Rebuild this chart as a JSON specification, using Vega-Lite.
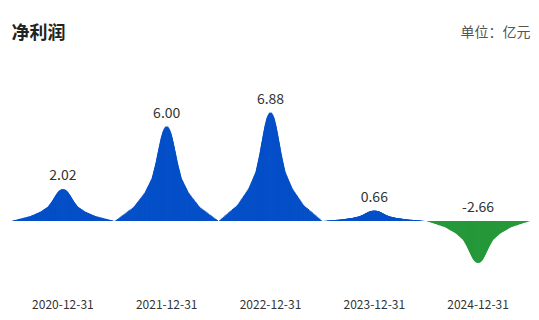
{"$schema":"https://vega.github.io/schema/vega-lite/v6.json","autosize":{"type":"none"},"width":519,"height":189,"padding":{"left":11,"top":95,"right":9,"bottom":36},"background":"#ffffff","config":{"font":"Noto Sans CJK SC","view":{"stroke":null},"locale":{"number":{"decimal":".","thousands":",","grouping":[3],"currency":["",""],"minus":"-"}}},"data":{"values":[{"date":"2020-12-31","value":2.02},{"date":"2021-12-31","value":6.00},{"date":"2022-12-31","value":6.88},{"date":"2023-12-31","value":0.66},{"date":"2024-12-31","value":-2.66}]},"encoding":{"x":{"field":"date","type":"nominal","scale":{"paddingInner":0,"paddingOuter":0},"axis":{"title":null,"labelAngle":0,"domain":false,"ticks":false,"tickSize":0,"grid":false,"labelFontSize":12,"labelColor":"#333333","labelPadding":20,"labelBaseline":"middle"}},"color":{"condition":{"test":"datum.value < 0","value":"#26993b"},"value":"#0550c8"}},"resolve":{"scale":{"y":"independent"},"axis":{"y":"independent"}},"layer":[
{"mark":{"type":"bar","width":{"band":0.988}},"encoding":{"y":{"field":"value","type":"quantitative","scale":{"domain":[-400,800],"nice":false},"axis":{"orient":"left","title":"净利润","labels":false,"ticks":false,"domain":false,"grid":false,"titleAngle":0,"titleX":0,"titleY":-61.5,"titleAlign":"left","titleBaseline":"middle","titleFontSize":18,"titleFontWeight":"bold","titleColor":"#222222"}}}},
{"mark":{"type":"bar","width":{"band":0.963}},"encoding":{"y":{"field":"value","type":"quantitative","scale":{"domain":[-200,400],"nice":false},"axis":{"orient":"right","title":"单位：亿元","labels":false,"ticks":false,"domain":false,"grid":false,"titleAngle":0,"titleX":0,"titleY":-63,"titleAlign":"right","titleBaseline":"middle","titleFontSize":14,"titleFontWeight":"normal","titleColor":"#555555"}}}},
{"mark":{"type":"bar","width":{"band":0.939}},"encoding":{"y":{"field":"value","type":"quantitative","scale":{"domain":[-133.3333,266.6667],"nice":false},"axis":null}}},
{"mark":{"type":"bar","width":{"band":0.914}},"encoding":{"y":{"field":"value","type":"quantitative","scale":{"domain":[-100,200],"nice":false},"axis":null}}},
{"mark":{"type":"bar","width":{"band":0.890}},"encoding":{"y":{"field":"value","type":"quantitative","scale":{"domain":[-80,160],"nice":false},"axis":null}}},
{"mark":{"type":"bar","width":{"band":0.865}},"encoding":{"y":{"field":"value","type":"quantitative","scale":{"domain":[-66.6667,133.3333],"nice":false},"axis":null}}},
{"mark":{"type":"bar","width":{"band":0.841}},"encoding":{"y":{"field":"value","type":"quantitative","scale":{"domain":[-57.1429,114.2857],"nice":false},"axis":null}}},
{"mark":{"type":"bar","width":{"band":0.816}},"encoding":{"y":{"field":"value","type":"quantitative","scale":{"domain":[-50,100],"nice":false},"axis":null}}},
{"mark":{"type":"bar","width":{"band":0.792}},"encoding":{"y":{"field":"value","type":"quantitative","scale":{"domain":[-44.4444,88.8889],"nice":false},"axis":null}}},
{"mark":{"type":"bar","width":{"band":0.767}},"encoding":{"y":{"field":"value","type":"quantitative","scale":{"domain":[-40,80],"nice":false},"axis":null}}},
{"mark":{"type":"bar","width":{"band":0.743}},"encoding":{"y":{"field":"value","type":"quantitative","scale":{"domain":[-36.3636,72.7273],"nice":false},"axis":null}}},
{"mark":{"type":"bar","width":{"band":0.718}},"encoding":{"y":{"field":"value","type":"quantitative","scale":{"domain":[-33.3333,66.6667],"nice":false},"axis":null}}},
{"mark":{"type":"bar","width":{"band":0.694}},"encoding":{"y":{"field":"value","type":"quantitative","scale":{"domain":[-30.7692,61.5385],"nice":false},"axis":null}}},
{"mark":{"type":"bar","width":{"band":0.669}},"encoding":{"y":{"field":"value","type":"quantitative","scale":{"domain":[-28.5714,57.1429],"nice":false},"axis":null}}},
{"mark":{"type":"bar","width":{"band":0.645}},"encoding":{"y":{"field":"value","type":"quantitative","scale":{"domain":[-26.6667,53.3333],"nice":false},"axis":null}}},
{"mark":{"type":"bar","width":{"band":0.629}},"encoding":{"y":{"field":"value","type":"quantitative","scale":{"domain":[-25,50],"nice":false},"axis":null}}},
{"mark":{"type":"bar","width":{"band":0.615}},"encoding":{"y":{"field":"value","type":"quantitative","scale":{"domain":[-23.5294,47.0588],"nice":false},"axis":null}}},
{"mark":{"type":"bar","width":{"band":0.601}},"encoding":{"y":{"field":"value","type":"quantitative","scale":{"domain":[-22.2222,44.4444],"nice":false},"axis":null}}},
{"mark":{"type":"bar","width":{"band":0.587}},"encoding":{"y":{"field":"value","type":"quantitative","scale":{"domain":[-21.0526,42.1053],"nice":false},"axis":null}}},
{"mark":{"type":"bar","width":{"band":0.573}},"encoding":{"y":{"field":"value","type":"quantitative","scale":{"domain":[-20,40],"nice":false},"axis":null}}},
{"mark":{"type":"bar","width":{"band":0.558}},"encoding":{"y":{"field":"value","type":"quantitative","scale":{"domain":[-19.0476,38.0952],"nice":false},"axis":null}}},
{"mark":{"type":"bar","width":{"band":0.544}},"encoding":{"y":{"field":"value","type":"quantitative","scale":{"domain":[-18.1818,36.3636],"nice":false},"axis":null}}},
{"mark":{"type":"bar","width":{"band":0.530}},"encoding":{"y":{"field":"value","type":"quantitative","scale":{"domain":[-17.3913,34.7826],"nice":false},"axis":null}}},
{"mark":{"type":"bar","width":{"band":0.516}},"encoding":{"y":{"field":"value","type":"quantitative","scale":{"domain":[-16.6667,33.3333],"nice":false},"axis":null}}},
{"mark":{"type":"bar","width":{"band":0.502}},"encoding":{"y":{"field":"value","type":"quantitative","scale":{"domain":[-16,32],"nice":false},"axis":null}}},
{"mark":{"type":"bar","width":{"band":0.488}},"encoding":{"y":{"field":"value","type":"quantitative","scale":{"domain":[-15.3846,30.7692],"nice":false},"axis":null}}},
{"mark":{"type":"bar","width":{"band":0.474}},"encoding":{"y":{"field":"value","type":"quantitative","scale":{"domain":[-14.8148,29.6296],"nice":false},"axis":null}}},
{"mark":{"type":"bar","width":{"band":0.460}},"encoding":{"y":{"field":"value","type":"quantitative","scale":{"domain":[-14.2857,28.5714],"nice":false},"axis":null}}},
{"mark":{"type":"bar","width":{"band":0.446}},"encoding":{"y":{"field":"value","type":"quantitative","scale":{"domain":[-13.7931,27.5862],"nice":false},"axis":null}}},
{"mark":{"type":"bar","width":{"band":0.432}},"encoding":{"y":{"field":"value","type":"quantitative","scale":{"domain":[-13.3333,26.6667],"nice":false},"axis":null}}},
{"mark":{"type":"bar","width":{"band":0.421}},"encoding":{"y":{"field":"value","type":"quantitative","scale":{"domain":[-12.9032,25.8065],"nice":false},"axis":null}}},
{"mark":{"type":"bar","width":{"band":0.412}},"encoding":{"y":{"field":"value","type":"quantitative","scale":{"domain":[-12.5,25],"nice":false},"axis":null}}},
{"mark":{"type":"bar","width":{"band":0.403}},"encoding":{"y":{"field":"value","type":"quantitative","scale":{"domain":[-12.1212,24.2424],"nice":false},"axis":null}}},
{"mark":{"type":"bar","width":{"band":0.394}},"encoding":{"y":{"field":"value","type":"quantitative","scale":{"domain":[-11.7647,23.5294],"nice":false},"axis":null}}},
{"mark":{"type":"bar","width":{"band":0.385}},"encoding":{"y":{"field":"value","type":"quantitative","scale":{"domain":[-11.4286,22.8571],"nice":false},"axis":null}}},
{"mark":{"type":"bar","width":{"band":0.376}},"encoding":{"y":{"field":"value","type":"quantitative","scale":{"domain":[-11.1111,22.2222],"nice":false},"axis":null}}},
{"mark":{"type":"bar","width":{"band":0.367}},"encoding":{"y":{"field":"value","type":"quantitative","scale":{"domain":[-10.8108,21.6216],"nice":false},"axis":null}}},
{"mark":{"type":"bar","width":{"band":0.358}},"encoding":{"y":{"field":"value","type":"quantitative","scale":{"domain":[-10.5263,21.0526],"nice":false},"axis":null}}},
{"mark":{"type":"bar","width":{"band":0.349}},"encoding":{"y":{"field":"value","type":"quantitative","scale":{"domain":[-10.2564,20.5128],"nice":false},"axis":null}}},
{"mark":{"type":"bar","width":{"band":0.340}},"encoding":{"y":{"field":"value","type":"quantitative","scale":{"domain":[-10,20],"nice":false},"axis":null}}},
{"mark":{"type":"bar","width":{"band":0.332}},"encoding":{"y":{"field":"value","type":"quantitative","scale":{"domain":[-9.7561,19.5122],"nice":false},"axis":null}}},
{"mark":{"type":"bar","width":{"band":0.323}},"encoding":{"y":{"field":"value","type":"quantitative","scale":{"domain":[-9.5238,19.0476],"nice":false},"axis":null}}},
{"mark":{"type":"bar","width":{"band":0.314}},"encoding":{"y":{"field":"value","type":"quantitative","scale":{"domain":[-9.3023,18.6047],"nice":false},"axis":null}}},
{"mark":{"type":"bar","width":{"band":0.305}},"encoding":{"y":{"field":"value","type":"quantitative","scale":{"domain":[-9.0909,18.1818],"nice":false},"axis":null}}},
{"mark":{"type":"bar","width":{"band":0.296}},"encoding":{"y":{"field":"value","type":"quantitative","scale":{"domain":[-8.8889,17.7778],"nice":false},"axis":null}}},
{"mark":{"type":"bar","width":{"band":0.288}},"encoding":{"y":{"field":"value","type":"quantitative","scale":{"domain":[-8.6957,17.3913],"nice":false},"axis":null}}},
{"mark":{"type":"bar","width":{"band":0.283}},"encoding":{"y":{"field":"value","type":"quantitative","scale":{"domain":[-8.5106,17.0213],"nice":false},"axis":null}}},
{"mark":{"type":"bar","width":{"band":0.278}},"encoding":{"y":{"field":"value","type":"quantitative","scale":{"domain":[-8.3333,16.6667],"nice":false},"axis":null}}},
{"mark":{"type":"bar","width":{"band":0.274}},"encoding":{"y":{"field":"value","type":"quantitative","scale":{"domain":[-8.1633,16.3265],"nice":false},"axis":null}}},
{"mark":{"type":"bar","width":{"band":0.269}},"encoding":{"y":{"field":"value","type":"quantitative","scale":{"domain":[-8,16],"nice":false},"axis":null}}},
{"mark":{"type":"bar","width":{"band":0.265}},"encoding":{"y":{"field":"value","type":"quantitative","scale":{"domain":[-7.8431,15.6863],"nice":false},"axis":null}}},
{"mark":{"type":"bar","width":{"band":0.260}},"encoding":{"y":{"field":"value","type":"quantitative","scale":{"domain":[-7.6923,15.3846],"nice":false},"axis":null}}},
{"mark":{"type":"bar","width":{"band":0.256}},"encoding":{"y":{"field":"value","type":"quantitative","scale":{"domain":[-7.5472,15.0943],"nice":false},"axis":null}}},
{"mark":{"type":"bar","width":{"band":0.251}},"encoding":{"y":{"field":"value","type":"quantitative","scale":{"domain":[-7.4074,14.8148],"nice":false},"axis":null}}},
{"mark":{"type":"bar","width":{"band":0.246}},"encoding":{"y":{"field":"value","type":"quantitative","scale":{"domain":[-7.2727,14.5455],"nice":false},"axis":null}}},
{"mark":{"type":"bar","width":{"band":0.242}},"encoding":{"y":{"field":"value","type":"quantitative","scale":{"domain":[-7.1429,14.2857],"nice":false},"axis":null}}},
{"mark":{"type":"bar","width":{"band":0.237}},"encoding":{"y":{"field":"value","type":"quantitative","scale":{"domain":[-7.0175,14.0351],"nice":false},"axis":null}}},
{"mark":{"type":"bar","width":{"band":0.233}},"encoding":{"y":{"field":"value","type":"quantitative","scale":{"domain":[-6.8966,13.7931],"nice":false},"axis":null}}},
{"mark":{"type":"bar","width":{"band":0.228}},"encoding":{"y":{"field":"value","type":"quantitative","scale":{"domain":[-6.7797,13.5593],"nice":false},"axis":null}}},
{"mark":{"type":"bar","width":{"band":0.224}},"encoding":{"y":{"field":"value","type":"quantitative","scale":{"domain":[-6.6667,13.3333],"nice":false},"axis":null}}},
{"mark":{"type":"bar","width":{"band":0.219}},"encoding":{"y":{"field":"value","type":"quantitative","scale":{"domain":[-6.5574,13.1148],"nice":false},"axis":null}}},
{"mark":{"type":"bar","width":{"band":0.215}},"encoding":{"y":{"field":"value","type":"quantitative","scale":{"domain":[-6.4516,12.9032],"nice":false},"axis":null}}},
{"mark":{"type":"bar","width":{"band":0.211}},"encoding":{"y":{"field":"value","type":"quantitative","scale":{"domain":[-6.3492,12.6984],"nice":false},"axis":null}}},
{"mark":{"type":"bar","width":{"band":0.207}},"encoding":{"y":{"field":"value","type":"quantitative","scale":{"domain":[-6.25,12.5],"nice":false},"axis":null}}},
{"mark":{"type":"bar","width":{"band":0.204}},"encoding":{"y":{"field":"value","type":"quantitative","scale":{"domain":[-6.1538,12.3077],"nice":false},"axis":null}}},
{"mark":{"type":"bar","width":{"band":0.200}},"encoding":{"y":{"field":"value","type":"quantitative","scale":{"domain":[-6.0606,12.1212],"nice":false},"axis":null}}},
{"mark":{"type":"bar","width":{"band":0.196}},"encoding":{"y":{"field":"value","type":"quantitative","scale":{"domain":[-5.9701,11.9403],"nice":false},"axis":null}}},
{"mark":{"type":"bar","width":{"band":0.192}},"encoding":{"y":{"field":"value","type":"quantitative","scale":{"domain":[-5.8824,11.7647],"nice":false},"axis":null}}},
{"mark":{"type":"bar","width":{"band":0.189}},"encoding":{"y":{"field":"value","type":"quantitative","scale":{"domain":[-5.7971,11.5942],"nice":false},"axis":null}}},
{"mark":{"type":"bar","width":{"band":0.185}},"encoding":{"y":{"field":"value","type":"quantitative","scale":{"domain":[-5.7143,11.4286],"nice":false},"axis":null}}},
{"mark":{"type":"bar","width":{"band":0.181}},"encoding":{"y":{"field":"value","type":"quantitative","scale":{"domain":[-5.6338,11.2676],"nice":false},"axis":null}}},
{"mark":{"type":"bar","width":{"band":0.177}},"encoding":{"y":{"field":"value","type":"quantitative","scale":{"domain":[-5.5556,11.1111],"nice":false},"axis":null}}},
{"mark":{"type":"bar","width":{"band":0.174}},"encoding":{"y":{"field":"value","type":"quantitative","scale":{"domain":[-5.4795,10.9589],"nice":false},"axis":null}}},
{"mark":{"type":"bar","width":{"band":0.170}},"encoding":{"y":{"field":"value","type":"quantitative","scale":{"domain":[-5.4054,10.8108],"nice":false},"axis":null}}},
{"mark":{"type":"bar","width":{"band":0.166}},"encoding":{"y":{"field":"value","type":"quantitative","scale":{"domain":[-5.3333,10.6667],"nice":false},"axis":null}}},
{"mark":{"type":"bar","width":{"band":0.162}},"encoding":{"y":{"field":"value","type":"quantitative","scale":{"domain":[-5.2632,10.5263],"nice":false},"axis":null}}},
{"mark":{"type":"bar","width":{"band":0.158}},"encoding":{"y":{"field":"value","type":"quantitative","scale":{"domain":[-5.1948,10.3896],"nice":false},"axis":null}}},
{"mark":{"type":"bar","width":{"band":0.154}},"encoding":{"y":{"field":"value","type":"quantitative","scale":{"domain":[-5.1282,10.2564],"nice":false},"axis":null}}},
{"mark":{"type":"bar","width":{"band":0.151}},"encoding":{"y":{"field":"value","type":"quantitative","scale":{"domain":[-5.0633,10.1266],"nice":false},"axis":null}}},
{"mark":{"type":"bar","width":{"band":0.147}},"encoding":{"y":{"field":"value","type":"quantitative","scale":{"domain":[-5,10],"nice":false},"axis":null}}},
{"mark":{"type":"bar","width":{"band":0.143}},"encoding":{"y":{"field":"value","type":"quantitative","scale":{"domain":[-4.9383,9.8765],"nice":false},"axis":null}}},
{"mark":{"type":"bar","width":{"band":0.139}},"encoding":{"y":{"field":"value","type":"quantitative","scale":{"domain":[-4.878,9.7561],"nice":false},"axis":null}}},
{"mark":{"type":"bar","width":{"band":0.135}},"encoding":{"y":{"field":"value","type":"quantitative","scale":{"domain":[-4.8193,9.6386],"nice":false},"axis":null}}},
{"mark":{"type":"bar","width":{"band":0.131}},"encoding":{"y":{"field":"value","type":"quantitative","scale":{"domain":[-4.7619,9.5238],"nice":false},"axis":null}}},
{"mark":{"type":"bar","width":{"band":0.127}},"encoding":{"y":{"field":"value","type":"quantitative","scale":{"domain":[-4.7059,9.4118],"nice":false},"axis":null}}},
{"mark":{"type":"bar","width":{"band":0.123}},"encoding":{"y":{"field":"value","type":"quantitative","scale":{"domain":[-4.6512,9.3023],"nice":false},"axis":null}}},
{"mark":{"type":"bar","width":{"band":0.119}},"encoding":{"y":{"field":"value","type":"quantitative","scale":{"domain":[-4.5977,9.1954],"nice":false},"axis":null}}},
{"mark":{"type":"bar","width":{"band":0.115}},"encoding":{"y":{"field":"value","type":"quantitative","scale":{"domain":[-4.5455,9.0909],"nice":false},"axis":null}}},
{"mark":{"type":"bar","width":{"band":0.111}},"encoding":{"y":{"field":"value","type":"quantitative","scale":{"domain":[-4.4944,8.9888],"nice":false},"axis":null}}},
{"mark":{"type":"bar","width":{"band":0.106}},"encoding":{"y":{"field":"value","type":"quantitative","scale":{"domain":[-4.4444,8.8889],"nice":false},"axis":null}}},
{"mark":{"type":"bar","width":{"band":0.101}},"encoding":{"y":{"field":"value","type":"quantitative","scale":{"domain":[-4.3956,8.7912],"nice":false},"axis":null}}},
{"mark":{"type":"bar","width":{"band":0.095}},"encoding":{"y":{"field":"value","type":"quantitative","scale":{"domain":[-4.3478,8.6957],"nice":false},"axis":null}}},
{"mark":{"type":"bar","width":{"band":0.090}},"encoding":{"y":{"field":"value","type":"quantitative","scale":{"domain":[-4.3011,8.6022],"nice":false},"axis":null}}},
{"mark":{"type":"bar","width":{"band":0.085}},"encoding":{"y":{"field":"value","type":"quantitative","scale":{"domain":[-4.2553,8.5106],"nice":false},"axis":null}}},
{"mark":{"type":"bar","width":{"band":0.080}},"encoding":{"y":{"field":"value","type":"quantitative","scale":{"domain":[-4.2105,8.4211],"nice":false},"axis":null}}},
{"mark":{"type":"bar","width":{"band":0.072}},"encoding":{"y":{"field":"value","type":"quantitative","scale":{"domain":[-4.1667,8.3333],"nice":false},"axis":null}}},
{"mark":{"type":"bar","width":{"band":0.064}},"encoding":{"y":{"field":"value","type":"quantitative","scale":{"domain":[-4.1237,8.2474],"nice":false},"axis":null}}},
{"mark":{"type":"bar","width":{"band":0.055}},"encoding":{"y":{"field":"value","type":"quantitative","scale":{"domain":[-4.0816,8.1633],"nice":false},"axis":null}}},
{"mark":{"type":"bar","width":{"band":0.045}},"encoding":{"y":{"field":"value","type":"quantitative","scale":{"domain":[-4.0404,8.0808],"nice":false},"axis":null}}},
{"mark":{"type":"bar","width":{"band":0.030}},"encoding":{"y":{"field":"value","type":"quantitative","scale":{"domain":[-4,8],"nice":false},"axis":null}}},
{"transform":[{"filter":"datum.value >= 0"}],"mark":{"type":"text","fontSize":14,"dy":-13,"baseline":"middle","align":"center"},"encoding":{"y":{"field":"value","type":"quantitative","scale":{"domain":[-4,8],"nice":false},"axis":null},"text":{"field":"value","type":"quantitative","format":".2f"},"color":{"value":"#333333"}}},
{"transform":[{"filter":"datum.value < 0"}],"mark":{"type":"text","fontSize":14,"dy":-13,"baseline":"middle","align":"center"},"encoding":{"y":{"datum":0,"type":"quantitative","scale":{"domain":[-4,8],"nice":false},"axis":null},"text":{"field":"value","type":"quantitative","format":".2f"},"color":{"value":"#333333"}}}
]}
